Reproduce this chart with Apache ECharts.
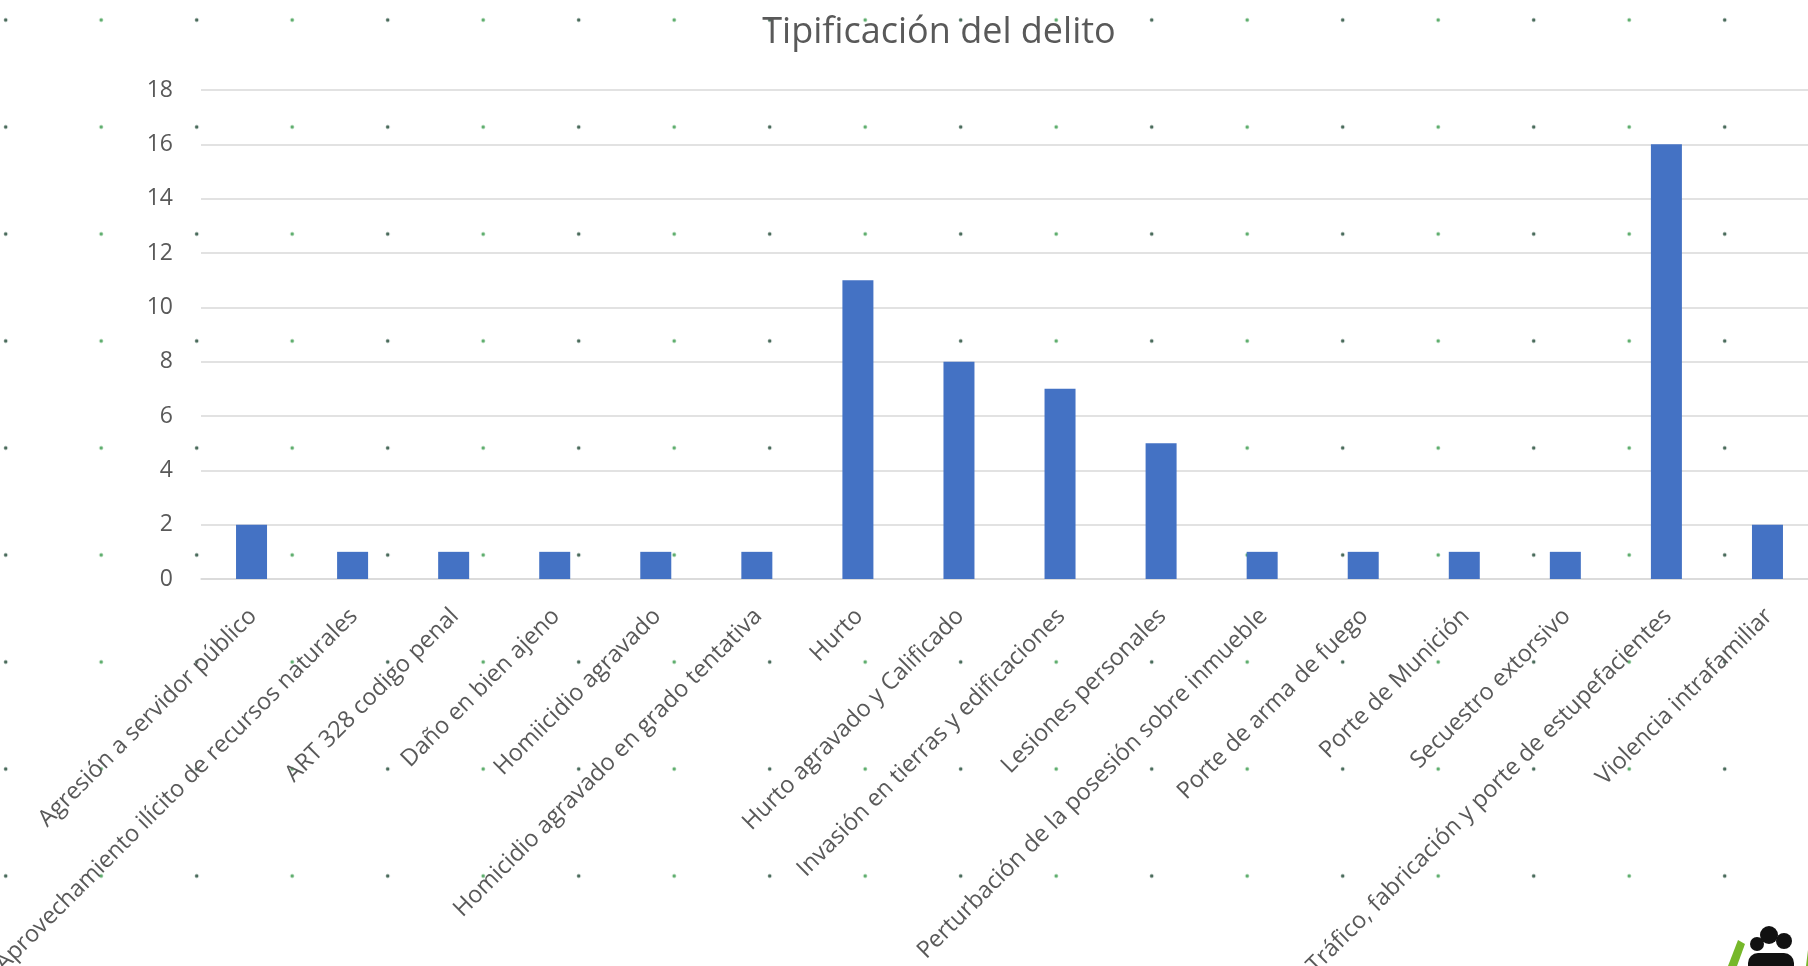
<!DOCTYPE html>
<html>
<head>
<meta charset="utf-8">
<script src="https://cdn.jsdelivr.net/npm/echarts@6/dist/echarts.min.js"></script>
<style>
  html, body { margin: 0; padding: 0; width: 1808px; height: 966px; overflow: hidden; }
  body {
    background-color: #ffffff;
    background-image:
      radial-gradient(circle, #4a6b5b 0, #4a6b5b 1.4px, rgba(255,255,255,0) 2.2px),
      radial-gradient(circle, #5fae6e 0, #5fae6e 1.4px, rgba(255,255,255,0) 2.2px);
    background-size: 191px 107px, 191px 107px;
    background-position: -89.8px -33.5px, 5.7px -33.5px;
  }
  #chart { width: 1808px; height: 966px; }
</style>
</head>
<body>
<div id="chart"></div>
<script>
const titleText = 'Tipificación del delito';
const categories = [
  'Agresión a servidor público',
  'Aprovechamiento ilícito de recursos naturales',
  'ART 328 codigo penal',
  'Daño en bien ajeno',
  'Homiicidio agravado',
  'Homicidio agravado en grado tentativa',
  'Hurto',
  'Hurto agravado y Calificado',
  'Invasión en tierras y edificaciones',
  'Lesiones personales',
  'Perturbación de la posesión sobre inmueble',
  'Porte de arma de fuego',
  'Porte de Munición',
  'Secuestro extorsivo',
  'Tráfico, fabricación y porte de estupefacientes',
  'Violencia intrafamiliar'
];
const values = [2, 1, 1, 1, 1, 1, 11, 8, 7, 5, 1, 1, 1, 1, 16, 2];
const yMin = 0, yMax = 18, yStep = 2;

const chart = echarts.init(document.getElementById('chart'), null, { renderer: 'canvas' });
const font = '"Open Sans", "Noto Sans", sans-serif';
chart.setOption({
  backgroundColor: 'transparent',
  animation: false,
  title: {
    text: titleText,
    left: 934, top: 10,
    textAlign: 'center',
    textStyle: { fontFamily: font, fontSize: 36, fontWeight: 'normal', color: '#595959' }
  },
  grid: { left: 201, top: 90, width: 1617, height: 489, containLabel: false, outerBoundsMode: 'none' },
  xAxis: {
    type: 'category',
    data: categories,
    axisLine: { show: true, lineStyle: { color: '#d9d9d9', width: 1.5 } },
    axisTick: { show: false },
    axisLabel: {
      interval: 0, rotate: 45, margin: 18,
      verticalAlign: 'top',
      padding: [0, 10, 0, 0],
      fontFamily: font, fontSize: 23.5, color: '#595959'
    }
  },
  yAxis: {
    type: 'value',
    min: yMin, max: yMax, interval: yStep,
    axisLine: { show: false },
    axisTick: { show: false },
    splitLine: { lineStyle: { color: '#d9d9d9', width: 1.5 } },
    axisLabel: { margin: 28, fontFamily: font, fontSize: 23, color: '#595959' }
  },
  series: [{
    type: 'bar',
    data: values,
    barWidth: 31,
    itemStyle: { color: '#4472c4' }
  }],
  graphic: [
    { type: 'polygon', shape: { points: [[1728, 966], [1738, 940], [1745, 944], [1737, 966]] }, style: { fill: '#76b82a' } },
    { type: 'circle', shape: { cx: 1757, cy: 944, r: 7 }, style: { fill: '#111' } },
    { type: 'circle', shape: { cx: 1769, cy: 935, r: 9 }, style: { fill: '#111' } },
    { type: 'circle', shape: { cx: 1784, cy: 941, r: 8 }, style: { fill: '#111' } },
    { type: 'rect', shape: { x: 1748, y: 953, width: 46, height: 13, r: [10, 10, 0, 0] }, style: { fill: '#111' } },
    { type: 'polygon', shape: { points: [[1806, 966], [1808, 950], [1808, 966]] }, style: { fill: '#76b82a' } }
  ]
});
</script>
</body>
</html>
